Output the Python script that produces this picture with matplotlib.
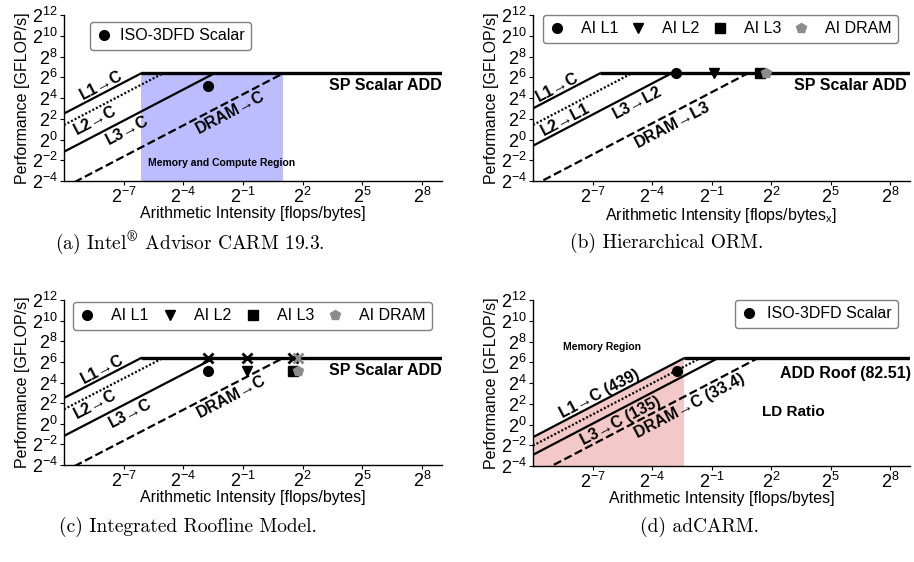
import numpy as np
import matplotlib
matplotlib.use("Agg")
import matplotlib.pyplot as plt
from matplotlib.ticker import FixedLocator, FixedFormatter, NullLocator

plt.rcParams['font.family'] = ['Liberation Sans', 'DejaVu Sans']
plt.rcParams['mathtext.fontset'] = 'custom'
plt.rcParams['mathtext.rm'] = 'Liberation Sans'
plt.rcParams['mathtext.it'] = 'Liberation Sans:italic'
plt.rcParams['mathtext.bf'] = 'Liberation Sans:bold'

# ---------------- data ----------------
roof_add = 82.51                      # GFLOP/s, SP scalar ADD peak
# (a) Intel Advisor CARM and (c) IRM : bandwidths (GB/s) L1, L2, L3, DRAM
carm_bw = [5790.0, 2700.0, 452.0, 41.1]
carm_labels = ['L1→C', 'L2→C', 'L3→C', 'DRAM→C']
# (b) Hierarchical ORM bandwidths
orm_bw = [8192.0, 2700.0, 675.0, 46.9]
orm_labels = ['L1→C', 'L2→L1', 'L3→L2', 'DRAM→L3']
# (d) adCARM bandwidths
ad_bw = [439.0, 250.0, 135.0, 33.4]
ad_labels = ['L1→C (439)', None, 'L3→C (135)', 'DRAM→C (33.4)']
line_styles = ['-', (0, (0.9, 0.9)), '-', '--']

# ISO-3DFD scalar application point
iso_ai = 0.149
iso_perf = 35.7
# (b) hierarchical ORM arithmetic intensities (one per memory level)
orm_ai = [0.143, 0.548, 2.75, 3.39]
# (c) integrated roofline model
irm_ai = [0.149, 0.566, 2.87, 3.34]
irm_perf = [35.5, 35.5, 35.5, 35.5]
ai_names = ['AI L1', 'AI L2', 'AI L3', 'AI DRAM']
ai_markers = ['o', 'v', 's', 'p']
ai_colors = ['black', 'black', 'black', '#8c8c8c']

x_ticks_exp = [-7, -4, -1, 2, 5, 8]
y_ticks_exp = [-4, -2, 0, 2, 4, 6, 8, 10, 12]
x_lim_exp = (-10, 9)
y_lim_exp = (-4, 12)

xlabel_std = 'Arithmetic Intensity [flops/bytes]'
xlabel_orm = r'Arithmetic Intensity [flops/bytes$_\mathregular{x}$]'

# ---------------- figure ----------------
W, H = 914, 562
fig = plt.figure(figsize=(W / 100, H / 100), dpi=100)

def make_ax(left, top, right, bottom, xlabel=xlabel_std):
    ax = fig.add_axes([left / W, 1 - bottom / H, (right - left) / W, (bottom - top) / H])
    ax.set_xscale('log', base=2)
    ax.set_yscale('log', base=2)
    ax.set_xlim(2.0 ** x_lim_exp[0], 2.0 ** x_lim_exp[1])
    ax.set_ylim(2.0 ** y_lim_exp[0], 2.0 ** y_lim_exp[1])
    ax.xaxis.set_major_locator(FixedLocator([2.0 ** e for e in x_ticks_exp]))
    ax.xaxis.set_major_formatter(FixedFormatter([r'$\mathdefault{2^{%d}}$' % e for e in x_ticks_exp]))
    ax.yaxis.set_major_locator(FixedLocator([2.0 ** e for e in y_ticks_exp]))
    ax.yaxis.set_major_formatter(FixedFormatter([r'$\mathdefault{2^{%d}}$' % e for e in y_ticks_exp]))
    ax.xaxis.set_minor_locator(NullLocator())
    ax.yaxis.set_minor_locator(NullLocator())
    for s in ['top', 'right']:
        ax.spines[s].set_visible(False)
    for s in ['left', 'bottom']:
        ax.spines[s].set_linewidth(1.0)
    ax.tick_params(axis='both', which='major', labelsize=13, length=3, width=0.8, pad=1.5)
    ax.set_xlabel(xlabel, fontsize=11.5, labelpad=-1)
    ax.set_ylabel('Performance [GFLOP/s]', fontsize=11.5, labelpad=1)
    return ax

def px_per_exp(ax):
    bb = ax.get_position()
    return (bb.width * W / (x_lim_exp[1] - x_lim_exp[0]),
            bb.height * H / (y_lim_exp[1] - y_lim_exp[0]))

def slope_angle(ax):
    px_x, px_y = px_per_exp(ax)
    return np.degrees(np.arctan(px_y / px_x))

def draw_roofs(ax, bws):
    xmin = 2.0 ** x_lim_exp[0]
    xmax = 2.0 ** x_lim_exp[1]
    for bw, ls in zip(bws, line_styles):
        ridge = roof_add / bw
        ax.plot([xmin, ridge], [bw * xmin, roof_add], color='black', lw=1.6, ls=ls, zorder=3)
    ridge_l1 = roof_add / bws[0]
    ax.plot([ridge_l1, xmax], [roof_add, roof_add], color='black', lw=2.4, zorder=3,
            solid_capstyle='butt')

def line_text(ax, bw, ai_center, s, side, dist=9.0, size=11.5):
    """Label placed parallel to the bandwidth line bw, centred at ai_center (x),
    shifted perpendicular by dist px above (side=+1) or below (side=-1)."""
    ang = slope_angle(ax)
    th = np.radians(ang)
    px_x, _ = px_per_exp(ax)
    dx = -side * dist * np.sin(th)
    dy = side * dist * np.cos(th)
    x_anchor = ai_center * 2.0 ** (-dx / px_x)
    ax.annotate(s, xy=(x_anchor, bw * x_anchor), xytext=(dx * 0.72, dy * 0.72),
                textcoords='offset points', fontsize=size, fontweight='bold',
                rotation=ang, ha='center', va='center_baseline', rotation_mode='anchor',
                zorder=5)

leg_kw = dict(frameon=True, fancybox=True, edgecolor='#808080', framealpha=1.0,
              borderaxespad=0, fontsize=11.5)

# ---- (a) Intel Advisor CARM ----
ax = make_ax(64, 15, 442, 181)
draw_roofs(ax, carm_bw)
ax.fill_between([roof_add / carm_bw[0], roof_add / carm_bw[3]], 2.0 ** y_lim_exp[0], roof_add,
                color='#bcbcff', lw=0, zorder=1)
ax.plot([iso_ai], [iso_perf], 'o', color='black', ms=7, zorder=6, label='ISO-3DFD Scalar', ls='none')
line_text(ax, carm_bw[0], 2.0 ** -8.16, carm_labels[0], +1)
line_text(ax, carm_bw[1], 2.0 ** -8.44, carm_labels[1], -1)
line_text(ax, carm_bw[2], 2.0 ** -6.85, carm_labels[2], -1)
line_text(ax, carm_bw[3], 2.0 ** -1.69, carm_labels[3], -1)
ax.text(0.999, 0.578, 'SP Scalar ADD', transform=ax.transAxes, fontsize=11.5, fontweight='bold',
        ha='right', va='center')
ax.text(0.417, 0.107, 'Memory and Compute Region', transform=ax.transAxes, fontsize=7.5,
        fontweight='bold', ha='center', va='center')
ax.legend(loc='upper left', bbox_to_anchor=(0.069, 0.958), handlelength=1, handletextpad=0.5,
          **leg_kw)

# ---- (b) Hierarchical ORM ----
ax = make_ax(533, 15, 910, 181, xlabel=xlabel_orm)
draw_roofs(ax, orm_bw)
for a, m, c, n in zip(orm_ai, ai_markers, ai_colors, ai_names):
    ax.plot([a], [roof_add], ls='none', marker=m, color=c, ms=7, zorder=6, label=n)
line_text(ax, orm_bw[0], 2.0 ** -8.79, orm_labels[0], +1)
line_text(ax, orm_bw[1], 2.0 ** -8.38, orm_labels[1], -1)
line_text(ax, orm_bw[2], 2.0 ** -4.77, orm_labels[2], -1)
line_text(ax, orm_bw[3], 2.0 ** -3.02, orm_labels[3], -1)
ax.text(0.991, 0.578, 'SP Scalar ADD', transform=ax.transAxes, fontsize=11.5, fontweight='bold',
        ha='right', va='center')
ax.legend(loc='upper left', bbox_to_anchor=(0.026, 1.0, 0.942, 0.0), mode='expand', ncol=4,
          handlelength=1, handletextpad=1.0, columnspacing=0.7, **leg_kw)

# ---- (c) Integrated Roofline Model ----
ax = make_ax(64, 300, 442, 465)
draw_roofs(ax, carm_bw)
for a, p, m, c, n in zip(irm_ai, irm_perf, ai_markers, ai_colors, ai_names):
    ax.plot([a], [p], ls='none', marker=m, color=c, ms=7, zorder=6, label=n)
    ax.plot([a], [roof_add], ls='none', marker='x', color=c, ms=7, mew=2, zorder=6)
line_text(ax, carm_bw[0], 2.0 ** -8.11, carm_labels[0], +1)
line_text(ax, carm_bw[1], 2.0 ** -8.44, carm_labels[1], -1)
line_text(ax, carm_bw[2], 2.0 ** -6.72, carm_labels[2], -1)
line_text(ax, carm_bw[3], 2.0 ** -1.62, carm_labels[3], -1)
ax.text(0.999, 0.572, 'SP Scalar ADD', transform=ax.transAxes, fontsize=11.5, fontweight='bold',
        ha='right', va='center')
ax.legend(loc='upper left', bbox_to_anchor=(0.024, 0.988, 0.95, 0.0), mode='expand', ncol=4,
          handlelength=1, handletextpad=1.0, columnspacing=0.7, **leg_kw)

# ---- (d) adCARM ----
ax = make_ax(533, 300, 910, 466)
draw_roofs(ax, ad_bw)
xs = np.array([2.0 ** x_lim_exp[0], roof_add / ad_bw[0]])
ax.fill_between(xs, 2.0 ** y_lim_exp[0], ad_bw[0] * xs, color='#f2c8c8', lw=0, zorder=1)
ax.plot([iso_ai], [iso_perf], 'o', color='black', ms=7, zorder=6, label='ISO-3DFD Scalar', ls='none')
line_text(ax, ad_bw[0], 2.0 ** -6.70, ad_labels[0], +1)
line_text(ax, ad_bw[2], 2.0 ** -5.64, ad_labels[2], -1)
line_text(ax, ad_bw[3], 2.0 ** -2.15, ad_labels[3], -1)
ax.text(1.003, 0.558, 'ADD Roof (82.51)', transform=ax.transAxes, fontsize=11.5, fontweight='bold',
        ha='right', va='center')
ax.text(0.690, 0.327, 'LD Ratio', transform=ax.transAxes, fontsize=11, fontweight='bold',
        ha='center', va='center')
ax.text(0.183, 0.719, 'Memory Region', transform=ax.transAxes, fontsize=7.5, fontweight='bold',
        ha='center', va='center')
ax.legend(loc='upper right', bbox_to_anchor=(0.968, 1.0), handlelength=1, handletextpad=0.6,
          **leg_kw)

# ---- captions ----
cap_kw = dict(fontsize=14, family='cmr10', math_fontfamily='cm', ha='center', va='center')
fig.text(190 / W, 1 - 243 / H, r'(a) Intel$^{\circledR}$ Advisor CARM 19.3.', **cap_kw)
fig.text(667 / W, 1 - 243 / H, '(b) Hierarchical ORM.', **cap_kw)
fig.text(188 / W, 1 - 527 / H, '(c) Integrated Roofline Model.', **cap_kw)
fig.text(700 / W, 1 - 527 / H, '(d) adCARM.', **cap_kw)

fig.savefig('out.png', dpi=100)
